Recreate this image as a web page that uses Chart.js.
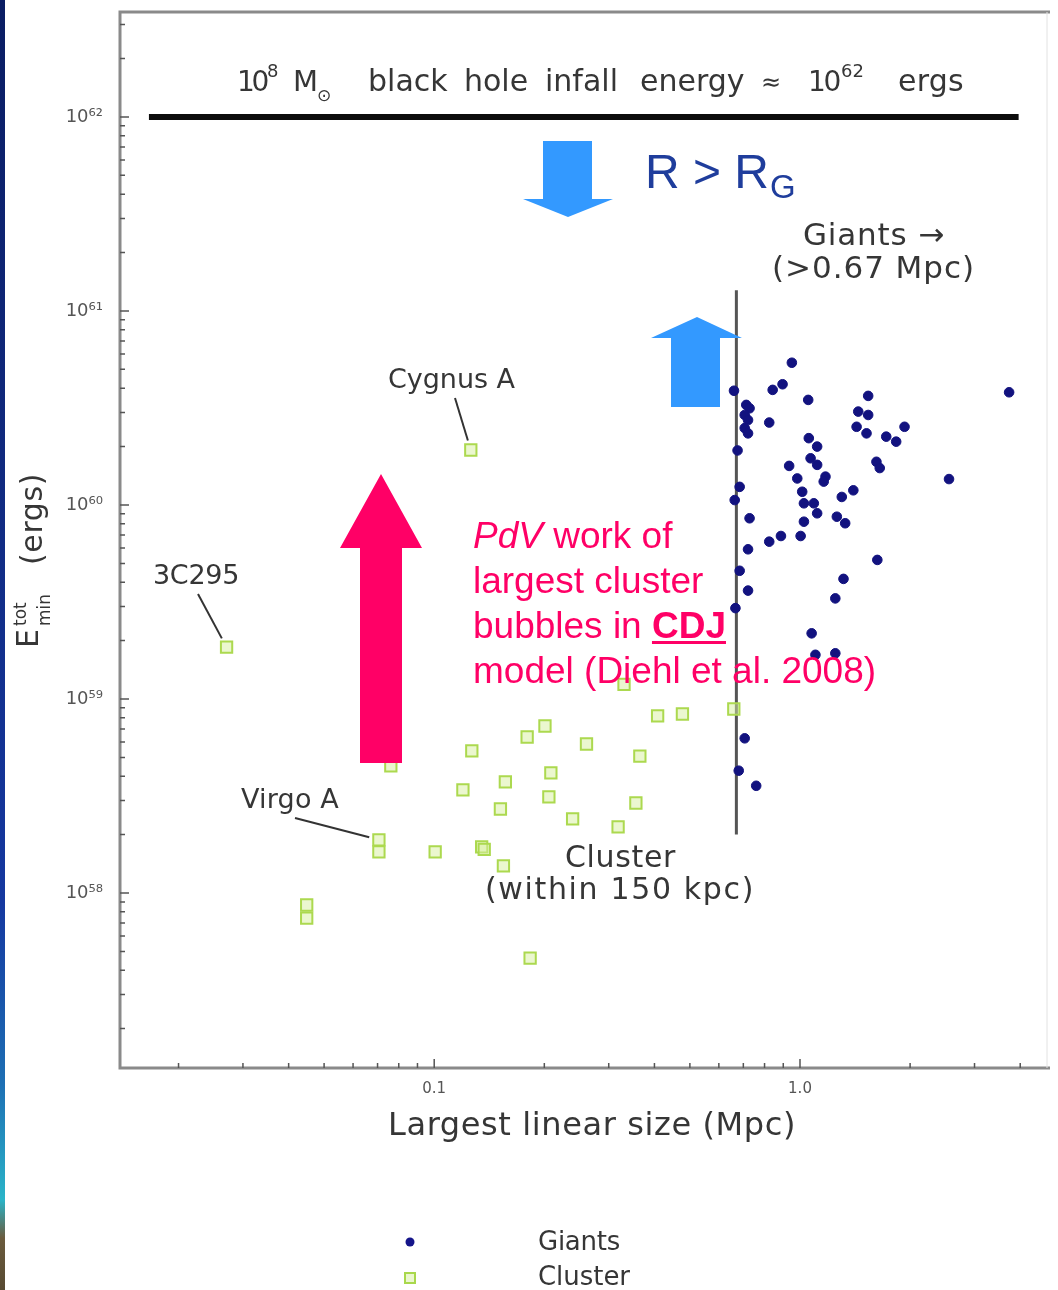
<!DOCTYPE html>
<html>
<head>
<meta charset="utf-8">
<script src="https://cdn.jsdelivr.net/npm/chart.js@4.4.0/dist/chart.umd.min.js"></script>
<style>
  body { margin: 0; background: #fff; }
  #wrap { position: relative; width: 1058px; height: 1290px; overflow: hidden; }
  #plot { position: absolute; left: 0; top: 0; filter: blur(0.7px); }
  #marks { position: absolute; left: 0; top: 0; pointer-events: none; }
  #strip {
    position: absolute; left: 0; top: 0; width: 5px; height: 1290px;
    background: linear-gradient(to bottom, #0a1d63 0%, #10297e 35%, #1538a0 70%, #1d6fb4 84%, #2ab4c8 93%, #6b5b3d 96%, #574a32 100%);
  }
</style>
</head>
<body>
<div id="wrap">
  <canvas id="plot" width="1058" height="1290"></canvas>
  <canvas id="marks" width="1058" height="1290"></canvas>
  <div id="strip"></div>
</div>
<script>
// radio sources: largest linear size (Mpc) vs minimum total energy (ergs)
const giantSize = [0.95, 0.66, 0.842, 0.896, 1.053, 1.536, 3.73, 0.713, 0.728, 0.706,
  0.721, 0.824, 0.706, 0.721, 1.443, 1.536, 1.428, 1.52, 1.931, 1.721,
  1.832, 0.675, 1.057, 1.114, 1.069, 1.114, 1.618, 1.652, 0.934, 1.174,
  1.161, 2.555, 0.983, 0.684, 0.663, 1.014, 1.025, 1.091, 1.114, 1.301,
  1.399, 0.728, 1.261, 1.329, 1.025, 0.824, 0.887, 1.004, 0.721, 1.627,
  0.684, 1.315, 0.721, 1.249, 0.666, 1.076, 1.102, 1.249, 0.706, 0.68, 0.759];
const giantEnergy = [5.41e60, 3.88e60, 3.92e60, 4.19e60, 3.48e60, 3.65e60, 3.81e60, 3.28e60, 3.15e60, 2.91e60,
  2.74e60, 2.66e60, 2.49e60, 2.34e60, 3.03e60, 2.91e60, 2.53e60, 2.34e60, 2.53e60, 2.25e60,
  2.12e60, 1.91e60, 2.21e60, 2.0e60, 1.74e60, 1.61e60, 1.67e60, 1.55e60, 1.59e60, 1.40e60,
  1.32e60, 1.36e60, 1.37e60, 1.24e60, 1.06e60, 1.17e60, 1.02e60, 1.02e60, 9.06e59, 1.10e60,
  1.19e60, 8.54e59, 8.70e59, 8.05e59, 8.20e59, 6.47e59, 6.92e59, 6.92e59, 5.91e59, 5.21e59,
  4.58e59, 4.16e59, 3.62e59, 3.30e59, 2.94e59, 2.18e59, 1.69e59, 1.72e59, 6.27e58, 4.27e58, 3.57e58];

const clusterSize = [0.02706, 0.1259, 0.0761, 0.0706, 0.0706, 0.1006, 0.1348, 0.137, 0.1546, 0.1267,
  0.1198, 0.1565, 0.1517, 0.1795, 0.2008, 0.2084, 0.2058, 0.2608, 0.239, 0.3182,
  0.3559, 0.3649, 0.4081, 0.4771, 0.3303, 0.6592, 0.04481, 0.04481, 0.1829];
const clusterEnergy = [1.85e59, 1.92e60, 4.52e58, 1.88e58, 1.63e58, 1.63e58, 1.73e58, 1.68e58, 1.38e58, 5.40e58,
  3.40e58, 3.74e58, 2.71e58, 6.37e58, 7.26e58, 4.16e58, 3.13e58, 5.86e58, 2.41e58, 2.19e58,
  2.91e58, 5.08e58, 8.18e58, 8.37e58, 1.19e59, 8.88e58, 8.67e57, 7.43e57, 4.62e57];

// named sources: [label, index into cluster arrays]
const namedSources = [['3C295', 0], ['Cygnus A', 1], ['Virgo A', 3]];

// black hole infall level and the giant size cut
const infallEnergy = 1e62;
const infallSpan = [0.0166, 3.96];
const giantCut = 0.67;
const cutSpan = [2.0e58, 1.28e61];

const xTickValues = [0.1, 1];
const xTickLabels = ['0.1', '1.0'];
const yDecades = [58, 59, 60, 61, 62];

const SUP = '⁰¹²³⁴⁵⁶⁷⁸⁹';
function supDigits(n) {
  return String(n).split('').map(function (c) { return SUP[+c]; }).join('');
}

const FONT = '"DejaVu Sans", sans-serif';
const GREY = '#363636';

function fitText(ctx, text, x, y, width, size, style) {
  ctx.font = (style ? style + ' ' : '') + size + 'px ' + FONT;
  ctx.letterSpacing = '0px';
  if (width) {
    const w = ctx.measureText(text).width;
    ctx.letterSpacing = ((width - w) / text.length) + 'px';
  }
  ctx.fillText(text, x, y);
  ctx.letterSpacing = '0px';
}

// axis frame and log tick marks
const frameTicks = {
  id: 'frameTicks',
  beforeDatasetsDraw(chart) {
    const ctx = chart.ctx;
    const a = chart.chartArea;
    const xs = chart.scales.x;
    const ys = chart.scales.y;
    ctx.save();
    ctx.strokeStyle = '#8a8a8a';
    ctx.lineWidth = 3;
    ctx.beginPath();
    ctx.moveTo(a.right + 2, a.top);
    ctx.lineTo(a.left, a.top);
    ctx.lineTo(a.left, a.bottom);
    ctx.lineTo(a.right + 2, a.bottom);
    ctx.stroke();
    ctx.strokeStyle = '#e2e2e2';
    ctx.lineWidth = 1;
    ctx.beginPath();
    ctx.moveTo(a.right - 1, a.top);
    ctx.lineTo(a.right - 1, a.bottom);
    ctx.stroke();

    ctx.strokeStyle = '#555';
    ctx.lineWidth = 1.5;
    ctx.beginPath();
    for (let d = 57; d <= 62; d++) {
      for (let m = 1; m <= 9; m++) {
        const v = m * Math.pow(10, d);
        if (v < ys.min || v > ys.max) continue;
        const py = ys.getPixelForValue(v);
        const len = m === 1 ? 9 : 5;
        ctx.moveTo(a.left, py);
        ctx.lineTo(a.left + len, py);
      }
    }
    for (let d = -2; d <= 0; d++) {
      for (let m = 1; m <= 9; m++) {
        const v = m * Math.pow(10, d);
        if (v < xs.min || v > xs.max) continue;
        const px = xs.getPixelForValue(v);
        const len = m === 1 ? 9 : 5;
        ctx.moveTo(px, a.bottom);
        ctx.lineTo(px, a.bottom - len);
      }
    }
    ctx.stroke();
    ctx.restore();
  }
};

// labels inside the plot, axis titles and legend
const plotText = {
  id: 'plotText',
  afterDatasetsDraw(chart) {
    const ctx = chart.ctx;
    const xs = chart.scales.x;
    const ys = chart.scales.y;
    ctx.save();
    ctx.fillStyle = GREY;
    ctx.strokeStyle = '#333';
    ctx.textAlign = 'left';

    // infall energy label, word by word
    ctx.textBaseline = 'alphabetic';
    fitText(ctx, '10', 237, 91, 29, 28);
    fitText(ctx, '8', 267, 77, 0, 18);
    fitText(ctx, 'M', 293, 91, 0, 29);
    fitText(ctx, '⊙', 317, 101, 0, 17);
    [['black', 368], ['hole', 464], ['infall', 545], ['energy', 640]].forEach(function (wd) {
      fitText(ctx, wd[0], wd[1], 91, 0, 30);
    });
    fitText(ctx, '≈', 761, 90, 0, 24);
    fitText(ctx, '10', 808, 91, 31, 28);
    fitText(ctx, '62', 841, 77, 23, 18);
    fitText(ctx, 'ergs', 898, 91, 66, 30);

    // named sources with leader lines
    ctx.textBaseline = 'middle';
    const labelPos = {
      '3C295': { x: 153, y: 577, w: 86, lx: 198, ly: 594 },
      'Cygnus A': { x: 388, y: 381, w: 127, lx: 455, ly: 398 },
      'Virgo A': { x: 241, y: 801, w: 98, lx: 295, ly: 818 }
    };
    ctx.lineWidth = 2;
    namedSources.forEach(function (s) {
      const p = labelPos[s[0]];
      fitText(ctx, s[0], p.x, p.y, p.w, 27);
      const tx = xs.getPixelForValue(clusterSize[s[1]]);
      const ty = ys.getPixelForValue(clusterEnergy[s[1]]);
      const dx = tx - p.lx, dy = ty - p.ly;
      const len = Math.sqrt(dx * dx + dy * dy);
      ctx.beginPath();
      ctx.moveTo(p.lx, p.ly);
      ctx.lineTo(tx - dx / len * 10, ty - dy / len * 10);
      ctx.stroke();
    });

    fitText(ctx, 'Giants →', 803, 237, 142, 31);
    fitText(ctx, '(>0.67 Mpc)', 772, 270, 203, 31);
    fitText(ctx, 'Cluster', 565, 859, 111, 30);
    fitText(ctx, '(within 150 kpc)', 485, 891, 270, 30);

    // x title
    fitText(ctx, 'Largest linear size (Mpc)', 388, 1127, 408, 32);

    // y title, rotated
    ctx.save();
    ctx.translate(38, 648);
    ctx.rotate(-Math.PI / 2);
    ctx.textBaseline = 'alphabetic';
    fitText(ctx, 'E', 0, 0, 0, 30);
    fitText(ctx, 'tot', 22, -12, 0, 17);
    fitText(ctx, 'min', 22, 12, 0, 17);
    fitText(ctx, '(ergs)', 83, 4, 92, 30);
    ctx.restore();

    // legend
    ctx.fillStyle = '#15158a';
    ctx.beginPath();
    ctx.arc(410, 1242, 4.5, 0, Math.PI * 2);
    ctx.fill();
    ctx.fillStyle = 'rgba(215,240,160,0.5)';
    ctx.fillRect(405, 1273, 10, 10);
    ctx.strokeStyle = '#a9d84c';
    ctx.lineWidth = 2;
    ctx.strokeRect(405, 1273, 10, 10);
    ctx.fillStyle = GREY;
    fitText(ctx, 'Giants', 538, 1243, 82, 26);
    fitText(ctx, 'Cluster', 538, 1278, 92, 26);
    ctx.restore();
  }
};

function pairs(xs, ys) {
  return xs.map(function (x, i) { return { x: x, y: ys[i] }; });
}

const ctx = document.getElementById('plot').getContext('2d');

const chart = new Chart(ctx, {
  type: 'scatter',
  data: {
    datasets: [
      {
        label: 'Giants',
        data: pairs(giantSize, giantEnergy),
        pointStyle: 'circle',
        pointRadius: 4.8,
        backgroundColor: '#12127f',
        borderColor: '#12127f',
        borderWidth: 1,
        order: 1
      },
      {
        label: 'Cluster',
        data: pairs(clusterSize, clusterEnergy),
        pointStyle: 'rect',
        pointRadius: 8,
        backgroundColor: 'rgba(215,240,160,0.5)',
        borderColor: '#acd94f',
        borderWidth: 2,
        order: 2
      },
      {
        label: 'infall',
        data: [{ x: infallSpan[0], y: infallEnergy }, { x: infallSpan[1], y: infallEnergy }],
        showLine: true,
        pointRadius: 0,
        borderColor: '#0d0d0d',
        borderWidth: 6,
        order: 3
      },
      {
        label: 'cut',
        data: [{ x: giantCut, y: cutSpan[0] }, { x: giantCut, y: cutSpan[1] }],
        showLine: true,
        pointRadius: 0,
        borderColor: '#555',
        borderWidth: 3,
        order: 3
      }
    ]
  },
  options: {
    responsive: false,
    animation: false,
    layout: { padding: { top: 12, right: 1, left: 0, bottom: 0 } },
    plugins: {
      legend: { display: false },
      tooltip: { enabled: false }
    },
    scales: {
      x: {
        type: 'logarithmic',
        min: Math.pow(10, -1.859),
        max: Math.pow(10, 0.678),
        grid: { display: false },
        border: { display: false },
        afterBuildTicks: function (scale) {
          scale.ticks = xTickValues.map(function (v) { return { value: v }; });
        },
        afterFit: function (scale) {
          scale.height = 222;
          scale.paddingLeft = 0;
          scale.paddingRight = 0;
        },
        ticks: {
          padding: 4,
          color: '#555',
          font: { family: 'DejaVu Sans', size: 15 },
          maxRotation: 0,
          autoSkip: false,
          callback: function (value) {
            const i = xTickValues.indexOf(value);
            return i >= 0 ? xTickLabels[i] : '';
          }
        }
      },
      y: {
        type: 'logarithmic',
        min: Math.pow(10, 57.098),
        max: Math.pow(10, 62.541),
        grid: { display: false },
        border: { display: false },
        afterBuildTicks: function (scale) {
          scale.ticks = yDecades.map(function (d) { return { value: Math.pow(10, d) }; });
        },
        afterFit: function (scale) {
          scale.width = 120;
          scale.paddingTop = 0;
          scale.paddingBottom = 0;
        },
        ticks: {
          padding: 9,
          color: '#555',
          font: { family: 'DejaVu Sans', size: 18 },
          autoSkip: false,
          callback: function (value) {
            const d = Math.round(Math.log10(value));
            return '10' + supDigits(d);
          }
        }
      }
    }
  },
  plugins: [frameTicks, plotText]
});

// slide overlay: arrows and callouts on top of the plot
const mk = document.getElementById('marks').getContext('2d');

function arrow(points, color) {
  mk.fillStyle = color;
  mk.beginPath();
  points.forEach(function (p, i) {
    if (i === 0) mk.moveTo(p[0], p[1]); else mk.lineTo(p[0], p[1]);
  });
  mk.closePath();
  mk.fill();
}

arrow([[543, 141], [592, 141], [592, 199], [613, 199], [568, 217], [523, 199], [543, 199]], '#3399ff');
arrow([[697, 317], [742, 338], [720, 338], [720, 407], [671, 407], [671, 338], [651, 338]], '#3399ff');
arrow([[381, 474], [422, 548], [402, 548], [402, 763], [360, 763], [360, 548], [340, 548]], '#ff0066');

mk.textBaseline = 'alphabetic';
mk.fillStyle = '#1f3d9c';
mk.font = '48px "Liberation Sans", Arial, sans-serif';
mk.fillText('R > R', 645, 188);
mk.font = '33px "Liberation Sans", Arial, sans-serif';
mk.fillText('G', 770, 198);

const SANS = '37px "Liberation Sans", Arial, sans-serif';
mk.fillStyle = '#ff0066';
mk.font = 'italic ' + SANS;
mk.fillText('PdV', 473, 548);
let w = mk.measureText('PdV').width;
mk.font = SANS;
mk.fillText(' work of', 473 + w, 548);
mk.fillText('largest cluster', 473, 593);
mk.fillText('bubbles in ', 473, 638);
w = mk.measureText('bubbles in ').width;
mk.font = 'bold ' + SANS;
mk.fillText('CDJ', 473 + w, 638);
const cdjW = mk.measureText('CDJ').width;
mk.fillRect(473 + w, 641, cdjW, 3);
mk.font = SANS;
mk.fillText('model (Diehl et al. 2008)', 473, 683);
</script>
</body>
</html>
